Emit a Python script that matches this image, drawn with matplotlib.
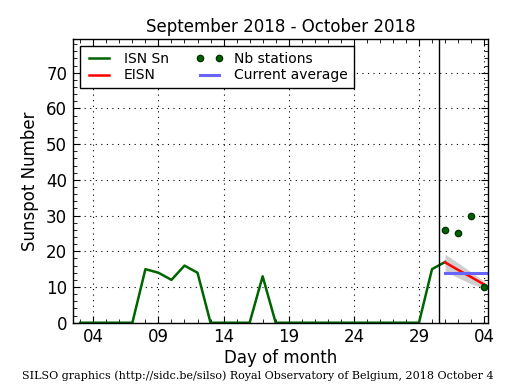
import matplotlib
matplotlib.use('Agg')
import matplotlib.pyplot as plt
from matplotlib.ticker import MultipleLocator, FixedLocator

# day index: Sept 1 = 1 ... Oct 4 = 34
isn_days = list(range(3, 32))
isn_vals = [0, 0, 0, 0, 0, 15, 14, 12, 16, 14, 0, 0, 0, 0, 13, 0,
            0, 0, 0, 0, 0, 0, 0, 0, 0, 0, 0, 15, 17]

eisn_days = [31, 32, 33, 34]
eisn_vals = [16.9, 14.8, 12.8, 10.7]
eisn_hi = [19.2, 16.8, 14.2, 11.6]
eisn_lo = [14.5, 12.6, 10.9, 9.6]

nb_days = [31, 32, 33, 34]
nb_vals = [26, 25, 30, 10]

avg_days = [31, 34.3]
avg_vals = [14, 14]

xticks = [4, 9, 14, 19, 24, 29, 34]
xlabels = ['04', '09', '14', '19', '24', '29', '04']

plt.rcParams['font.family'] = 'DejaVu Sans'
fig = plt.figure(figsize=(5.15, 3.9), dpi=100, facecolor='white')
ax = fig.add_axes([0.1412, 0.1725, 0.8064, 0.727])

ax.fill_between(eisn_days, eisn_lo, eisn_hi, color='#b0b0b0', alpha=0.6, lw=0)
ax.plot(isn_days, isn_vals, color='#006400', lw=1.8, label='ISN Sn')
ax.plot(eisn_days, eisn_vals, color='red', lw=1.8, label='EISN')
ax.plot(nb_days, nb_vals, 'o', color='#006400', mec='#003300', ms=4.5, label='Nb stations')
ax.plot(avg_days, avg_vals, color='#6666ff', lw=2.2, label='Current average')
ax.axvline(30.5, color='black', lw=1)

ax.set_xlim(2.42, 34.3)
ax.set_ylim(0, 79.4)
ax.xaxis.set_major_locator(FixedLocator(xticks))
ax.set_xticklabels(xlabels)
ax.xaxis.set_minor_locator(MultipleLocator(1))
ax.yaxis.set_major_locator(MultipleLocator(10))
ax.yaxis.set_minor_locator(MultipleLocator(2))
ax.tick_params(which='both', direction='in', top=True, right=True, labelsize=12)
ax.tick_params(which='major', length=5, pad=4)
ax.tick_params(which='minor', length=3)
ax.grid(True, which='major', linestyle=(0, (1, 4)), color='black', lw=0.8)
for s in ax.spines.values():
    s.set_linewidth(1)

ax.set_title('September 2018 - October 2018', fontsize=12, pad=5)
ax.set_xlabel('Day of month', fontsize=12, labelpad=2)
ax.set_ylabel('Sunspot Number', fontsize=12, labelpad=5)

leg = ax.legend(loc='upper left', ncol=2, fontsize=10, numpoints=2, fancybox=False,
                framealpha=1, edgecolor='black', borderaxespad=0.5,
                handlelength=2, columnspacing=1.9, borderpad=0.4, labelspacing=0.2)
leg.get_frame().set_linewidth(1)

fig.text(0.5, 0.028, 'SILSO graphics (http://sidc.be/silso) Royal Observatory of Belgium, 2018 October 4',
         ha='center', fontsize=8, family='DejaVu Serif')

fig.savefig('out.png', dpi=100, facecolor='white')
